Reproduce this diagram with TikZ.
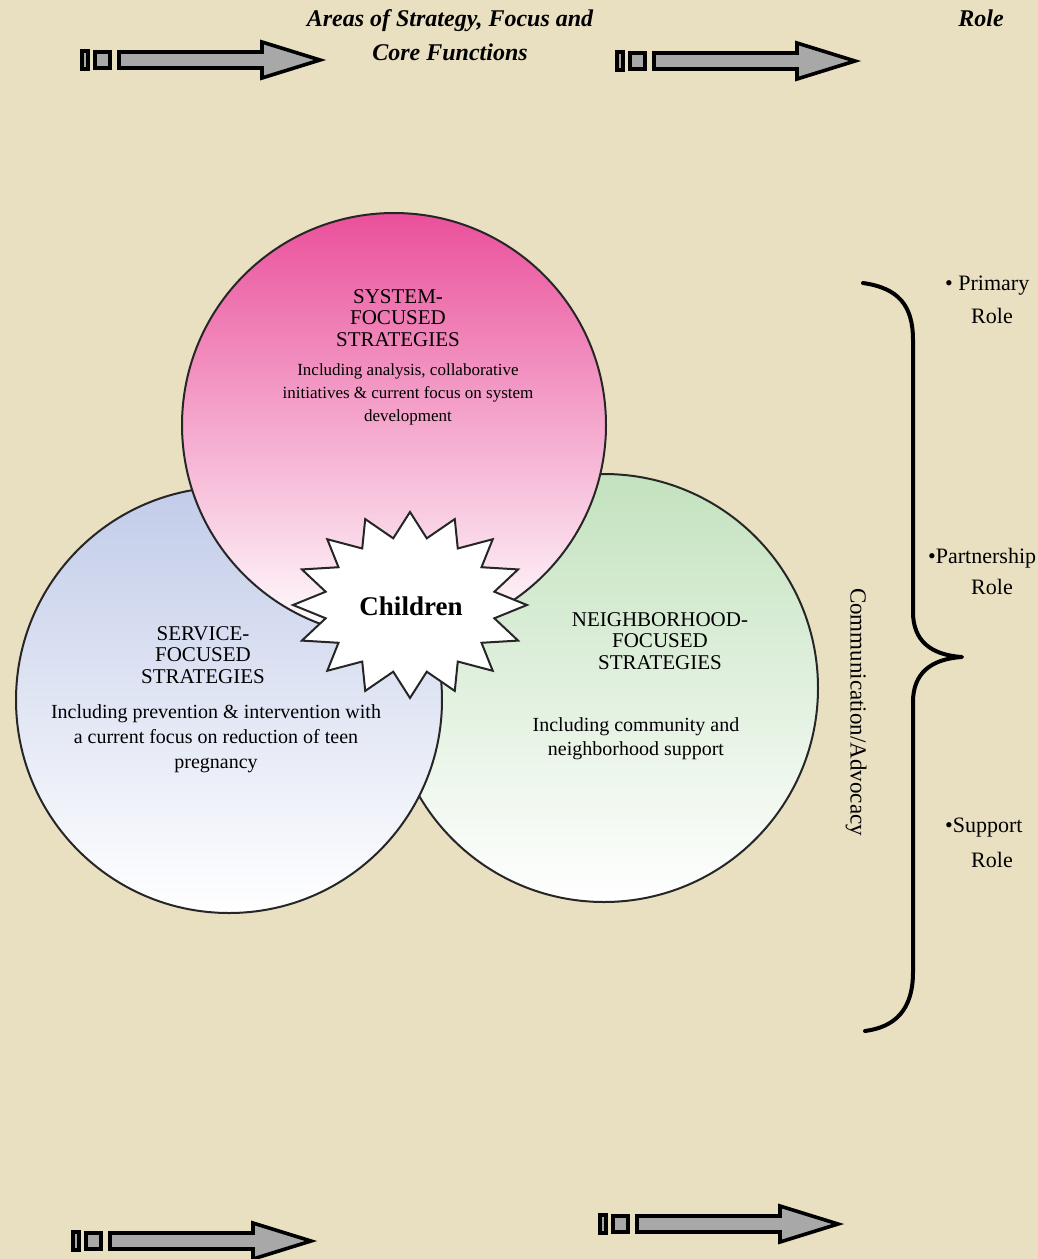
\documentclass[tikz,border=0pt]{standalone}
\usepackage{fontspec}
\setmainfont{Liberation Serif}
\definecolor{paper}{RGB}{233,224,194}
\definecolor{arrowgray}{RGB}{168,168,168}
\definecolor{syspink}{RGB}{234,80,155}
\definecolor{servblue}{RGB}{194,204,233}
\definecolor{nbhdgreen}{RGB}{195,226,190}
\begin{document}
\begin{tikzpicture}[x=1pt, y=-1pt, line join=round, line cap=round,
    ring/.style={draw=black!85, line width=2pt},
    starline/.style={draw=black!85, line width=2pt, fill=white, line join=miter},
    caps/.style={align=center, inner sep=0pt, font=\fontsize{21}{21.5}\selectfont},
    desc/.style={align=center, inner sep=0pt},
    rolebox/.style={align=center, inner sep=0pt, font=\fontsize{22}{30}\selectfont},
    blockarrow/.style={draw=black, line width=3.6pt, fill=arrowgray, line join=miter}]
    \fill[paper] (0,0) rectangle (1038,1259);
    \useasboundingbox (0,0) rectangle (1038,1259);
    \clip (0,0) rectangle (1038,1259);
    % headings
    \node[font=\fontsize{24}{34}\selectfont\bfseries\itshape, align=center] (areas) at (450,35) {Areas of Strategy, Focus and\\Core Functions};
    \node[font=\fontsize{24}{34}\selectfont\bfseries\itshape] (role) at (981,18) {Role};
    % block arrows
    \foreach \ax/\ay in {80/60, 615/61, 71/1241, 598/1224} {
        \draw[blockarrow] (\ax+2,\ay-9) rectangle (\ax+8,\ay+9);
        \draw[blockarrow] (\ax+15,\ay-8) rectangle (\ax+30,\ay+8);
        \draw[blockarrow] (\ax+39,\ay-8) -- (\ax+182,\ay-8) -- (\ax+182,\ay-18) -- (\ax+240,\ay) -- (\ax+182,\ay+18) -- (\ax+182,\ay+8) -- (\ax+39,\ay+8) -- cycle;
    }
    % the three circles
    \coordinate (nbhd) at (604,688);
    \coordinate (serv) at (229,700);
    \coordinate (sys) at (394,425);
    \draw[ring, top color=nbhdgreen, bottom color=white] (nbhd) circle[radius=214pt];
    \draw[ring, top color=servblue, bottom color=white] (serv) circle[radius=213pt];
    \draw[ring, top color=syspink, bottom color=white] (sys) circle[radius=212pt];
    \node[caps] (systitle) at (398,318) {SYSTEM-\\FOCUSED\\STRATEGIES};
    \node[desc, font=\fontsize{17}{23}\selectfont] (sysdesc) at (408,394) {Including analysis, collaborative\\initiatives \& current focus on system\\development};
    \node[caps] (servtitle) at (203,655) {SERVICE-\\FOCUSED\\STRATEGIES};
    \node[desc, font=\fontsize{20}{25}\selectfont] (servdesc) at (216,739) {Including prevention \& intervention with\\a current focus on reduction of teen\\pregnancy};
    \node[caps] (nbhdtitle) at (660,641) {NEIGHBORHOOD-\\FOCUSED\\STRATEGIES};
    \node[desc, font=\fontsize{20}{24}\selectfont] (nbhddesc) at (636,739) {Including community and\\neighborhood support};
    % star in the middle
    \begin{scope}[shift={(410,605)}]
        \draw[starline] (0:117 and 93) \foreach \a in {0,22.5,...,337.5} { -- (\a+11.25:86 and 68) -- (\a+22.5:117 and 93) } -- cycle;
    \end{scope}
    \node[font=\fontsize{27}{27}\selectfont\bfseries] (kids) at (411,606) {Children};
    % brace and roles
    \draw[line width=4pt] (863,283) .. controls (898,288) and (913,305) .. (913,340) -- (913,612)
        .. controls (913,640) and (930,655) .. (962,657) .. controls (930,659) and (913,674) .. (913,702)
        -- (913,972) .. controls (913,1010) and (895,1027) .. (865,1031);
    \node[rotate=-90, font=\fontsize{23}{23}\selectfont] (comm) at (856,712) {Communication/Advocacy};
    \node[rolebox, anchor=west] (primary) at (945,286) {• Primary};
    \node[rolebox] (primrole) at (992,316) {Role};
    \node[rolebox, anchor=west] (partner) at (928,558) {•Partnership};
    \node[rolebox] (partrole) at (992,587) {Role};
    \node[rolebox, anchor=west] (support) at (945,828) {•Support};
    \node[rolebox] (supprole) at (992,860) {Role};
\end{tikzpicture}
\end{document}
